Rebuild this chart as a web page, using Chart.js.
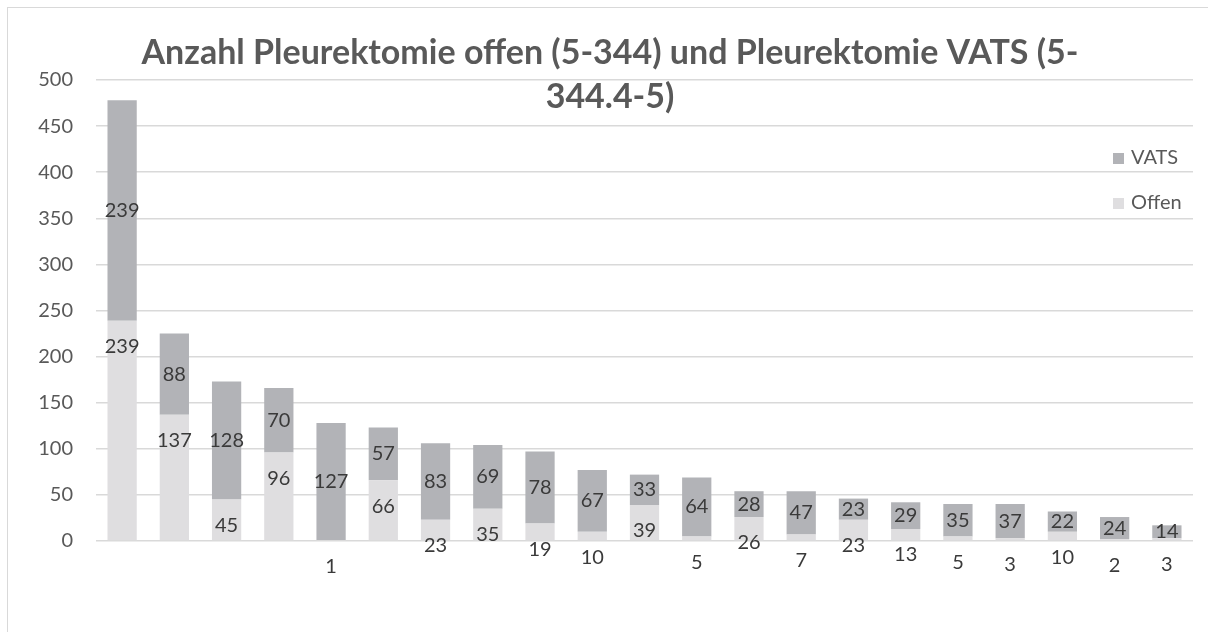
<!DOCTYPE html>
<html>
<head>
<meta charset="utf-8">
<script src="https://cdn.jsdelivr.net/npm/chart.js@4.4.1/dist/chart.umd.min.js"></script>
<style>
  html, body { margin: 0; padding: 0; background: #fff; overflow: hidden; }
  #wrap { position: relative; width: 1208px; height: 632px; }
  #frame { position: absolute; left: 7px; top: 7px; width: 1230px; height: 660px;
           border: 1px solid #d9d9d9; pointer-events: none; }
</style>
</head>
<body>
<div id="wrap">
  <canvas id="chart" width="1208" height="632"></canvas>
  <div id="frame"></div>
</div>
<script>
const categories = ['1','2','3','4','5','6','7','8','9','10','11','12','13','14','15','16','17','18','19','20','21'];
const offen = [239, 137, 45, 96, 1, 66, 23, 35, 19, 10, 39, 5, 26, 7, 23, 13, 5, 3, 10, 2, 3];
const vats = [239, 88, 128, 70, 127, 57, 83, 69, 78, 67, 33, 64, 28, 47, 23, 29, 35, 37, 22, 24, 14];
const titleLines = ['Anzahl Pleurektomie offen (5-344) und Pleurektomie VATS (5-', '344.4-5)'];

const textGray = '#595959';
const labelGray = '#3a3a3a';
const fontFam = 'Lato, "Open Sans", sans-serif';

// title, legend and data labels drawn by hand (Excel-like placement)
const decor = {
  id: 'decor',
  afterDatasetsDraw(chart) {
    const ctx = chart.ctx;
    ctx.save();
    ctx.font = '20px ' + fontFam;
    ctx.fillStyle = labelGray;
    ctx.textAlign = 'center';
    ctx.textBaseline = 'middle';
    const m0 = chart.getDatasetMeta(0);
    const m1 = chart.getDatasetMeta(1);
    m0.data.forEach((bar, i) => {
      ctx.fillText(String(offen[i]), bar.x, bar.y + 26);
    });
    m1.data.forEach((bar, i) => {
      ctx.fillText(String(vats[i]), bar.x, (bar.y + bar.base) / 2);
    });
    ctx.restore();
  },
  afterDraw(chart) {
    const ctx = chart.ctx;
    ctx.save();
    ctx.fillStyle = textGray;
    ctx.textAlign = 'center';
    ctx.textBaseline = 'middle';
    ctx.font = 'bold 34px ' + fontFam;
    ctx.fillText(titleLines[0], 610, 53);
    ctx.fillText(titleLines[1], 610, 97);

    // legend, VATS above Offen
    ctx.font = '20px ' + fontFam;
    ctx.textAlign = 'left';
    const items = [chart.data.datasets[1], chart.data.datasets[0]];
    items.forEach((ds, k) => {
      const y = 158 + k * 45;
      ctx.fillStyle = ds.backgroundColor;
      ctx.fillRect(1113, y - 5, 11, 11);
      ctx.fillStyle = textGray;
      ctx.fillText(ds.label, 1131, y);
    });
    ctx.restore();
  }
};

new Chart(document.getElementById('chart').getContext('2d'), {
  type: 'bar',
  data: {
    labels: categories,
    datasets: [
      { label: 'Offen', data: offen, backgroundColor: '#dfdee0', categoryPercentage: 0.56, barPercentage: 1.0 },
      { label: 'VATS', data: vats, backgroundColor: '#b2b3b7', categoryPercentage: 0.56, barPercentage: 1.0 }
    ]
  },
  options: {
    responsive: false,
    animation: false,
    layout: { padding: { left: 0, right: 15, top: 80, bottom: 91 } },
    plugins: {
      legend: { display: false },
      title: { display: false },
      tooltip: { enabled: false }
    },
    scales: {
      x: {
        stacked: true,
        grid: { display: false },
        border: { display: false },
        ticks: { display: false },
        afterFit(scale) { scale.height = 0; }
      },
      y: {
        stacked: true,
        min: 0,
        max: 500,
        ticks: { stepSize: 50, color: textGray, padding: 23, font: { family: fontFam, size: 20 } },
        grid: { color: '#d9d9d9', lineWidth: 1.5, drawTicks: false },
        border: { display: false },
        afterFit(scale) { scale.width = 96; }
      }
    }
  },
  plugins: [decor]
});
</script>
</body>
</html>
